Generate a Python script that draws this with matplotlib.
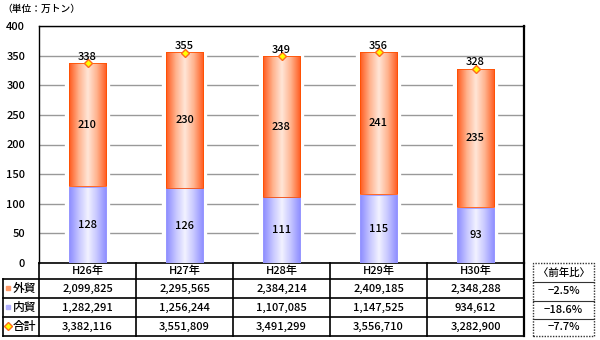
import matplotlib
matplotlib.use("Agg")
import matplotlib.pyplot as plt
import numpy as np
from matplotlib.colors import LinearSegmentedColormap
from matplotlib.transforms import blended_transform_factory

plt.rcParams['font.family'] = ['Noto Sans CJK JP', 'DejaVu Sans']

years = ["H26年", "H27年", "H28年", "H29年", "H30年"]
naibo = [128, 126, 111, 115, 93]       # 内貿 (万トン)
gaibo = [210, 230, 238, 241, 235]      # 外貿
gokei = [338, 355, 349, 356, 328]      # 合計
row_names = ["外貿", "内貿", "合計"]
table_vals = [
    ["2,099,825", "2,295,565", "2,384,214", "2,409,185", "2,348,288"],
    ["1,282,291", "1,256,244", "1,107,085", "1,147,525", "934,612"],
    ["3,382,116", "3,551,809", "3,491,299", "3,556,710", "3,282,900"],
]
yoy = ["−2.5%", "−18.6%", "−7.7%"]

W, H = 600, 340
fig = plt.figure(figsize=(6, 3.4), dpi=100)
ax = fig.add_axes([39 / W, 1 - 263 / H, (524 - 39) / W, (263 - 26) / H])

orange_cm = LinearSegmentedColormap.from_list("o", ["#ff5a1e", "#ffb08a", "#ffe6d8", "#ffb08a", "#ff5a1e"])
blue_cm = LinearSegmentedColormap.from_list("b", ["#8c8cff", "#c4c4ff", "#f2f2ff", "#c4c4ff", "#8c8cff"])

x = np.arange(len(years))
bw = 0.39
grad = np.linspace(0, 1, 64).reshape(1, -1)
fs = 8


def grad_bars(bottoms, heights, cmap, edge):
    bars = ax.bar(x, heights, bw, bottom=bottoms, color="none", edgecolor="white",
                  linewidth=6, zorder=2)
    for b in bars:
        x0, y0 = b.get_x(), b.get_y()
        im = ax.imshow(grad, cmap=cmap, aspect="auto", zorder=3,
                       extent=[x0, x0 + b.get_width(), y0, y0 + b.get_height()])
        im.set_clip_path(b)
    ax.bar(x, heights, bw, bottom=bottoms, color="none", edgecolor=edge,
           linewidth=0.6, zorder=4)
    return bars


grad_bars(np.zeros(5), naibo, blue_cm, "#9a9aff")
grad_bars(np.array(naibo) + 1.2, np.array(gaibo) - 1.2, orange_cm, "#ff5000")

for i in range(len(years)):
    ax.text(x[i], naibo[i] / 2, str(naibo[i]), ha="center", va="center", fontsize=fs,
            fontweight="medium", zorder=6)
    ax.text(x[i], naibo[i] + gaibo[i] / 2, str(gaibo[i]), ha="center", va="center", fontsize=fs,
            fontweight="medium", zorder=6)
    ax.text(x[i], gokei[i] + 2, str(gokei[i]), ha="center", va="bottom", fontsize=fs,
            fontweight="medium", zorder=7)

ax.plot(x, gokei, linestyle="none", marker="D", markersize=4.5, markerfacecolor="#ffff00",
        markeredgecolor="#ff6a1a", markeredgewidth=1, zorder=6)

ax.set_xlim(-0.5, 4.5)
ax.set_ylim(0, 400)
ax.set_yticks(range(0, 401, 50))
ax.set_xticks([])
ax.yaxis.grid(True, color="#999999", linewidth=1)
ax.set_axisbelow(True)
ax.tick_params(axis="y", length=0, labelsize=fs, pad=10)
for lab in ax.get_yticklabels():
    lab.set_fontweight("medium")
for s in ["left", "top", "right"]:
    ax.spines[s].set_color("black")
    ax.spines[s].set_linewidth(1)
ax.spines["right"].set_linewidth(1.6)
ax.spines["bottom"].set_visible(False)

fig.text(2 / W, 1 - 9 / H, "（単位：万トン）", fontsize=7, fontweight="medium", va="center", ha="left")

# data table under the chart
tr = blended_transform_factory(ax.transData, fig.transFigure)
ftr = fig.transFigure
row_y = [263, 279, 298, 317, 336]
yf = [1 - v / H for v in row_y]
lw = 1.2

# horizontal lines
ax.plot([-0.5, 4.5], [yf[0], yf[0]], color="black", lw=lw, transform=tr, clip_on=False)
for v in yf[1:]:
    fig.add_artist(plt.Line2D([3 / W, 524 / W], [v, v], color="black", lw=lw, transform=ftr))
# vertical lines
for k in range(len(years) + 1):
    ax.plot([k - 0.5, k - 0.5], [yf[0], yf[-1]], color="black", lw=lw if k < 5 else 1.6,
            transform=tr, clip_on=False)
fig.add_artist(plt.Line2D([3 / W, 3 / W], [yf[1], yf[-1]], color="black", lw=lw, transform=ftr))

for i, yr in enumerate(years):
    ax.text(x[i], (yf[0] + yf[1]) / 2, yr, ha="center", va="center", fontsize=fs,
            fontweight="medium", transform=tr)
    for r in range(3):
        ax.text(x[i], (yf[r + 1] + yf[r + 2]) / 2, table_vals[r][i], ha="center", va="center",
                fontsize=fs, fontweight="medium", transform=tr)

sym_colors = ["#ff9966", "#b0b0ff"]
for r, name in enumerate(row_names):
    yc = (yf[r + 1] + yf[r + 2]) / 2
    fig.text(13 / W, yc, name, ha="left", va="center", fontsize=8.5, fontweight="medium")
    if r < 2:
        fig.add_artist(plt.Line2D([8 / W], [yc + 0.002], marker="s", markersize=3,
                                  color=sym_colors[r], transform=ftr))
    else:
        fig.add_artist(plt.Line2D([8 / W], [yc + 0.002], marker="D", markersize=4.5,
                                  markerfacecolor="#ffff00", markeredgecolor="#ff6a1a",
                                  markeredgewidth=1, transform=ftr))

# year-on-year box
ry = [263, 282, 301, 319, 336]
ryf = [1 - v / H for v in ry]
fig.add_artist(plt.Rectangle((533 / W, ryf[-1]), (594 - 533) / W, ryf[0] - ryf[-1],
                             fill=False, linestyle=(0, (1, 1)), lw=1, edgecolor="#333333",
                             transform=ftr))
for v in ryf[1:-1]:
    fig.add_artist(plt.Line2D([533 / W, 594 / W], [v, v], color="#333333", lw=0.8, transform=ftr))
fig.text(563.5 / W, (ryf[0] + ryf[1]) / 2, "〈前年比〉", ha="center", va="center", fontsize=7.5,
         fontweight="medium")
for r, s in enumerate(yoy):
    fig.text(563.5 / W, (ryf[r + 1] + ryf[r + 2]) / 2, s, ha="center", va="center", fontsize=8,
             fontweight="medium")

fig.savefig("out.png", dpi=100)
